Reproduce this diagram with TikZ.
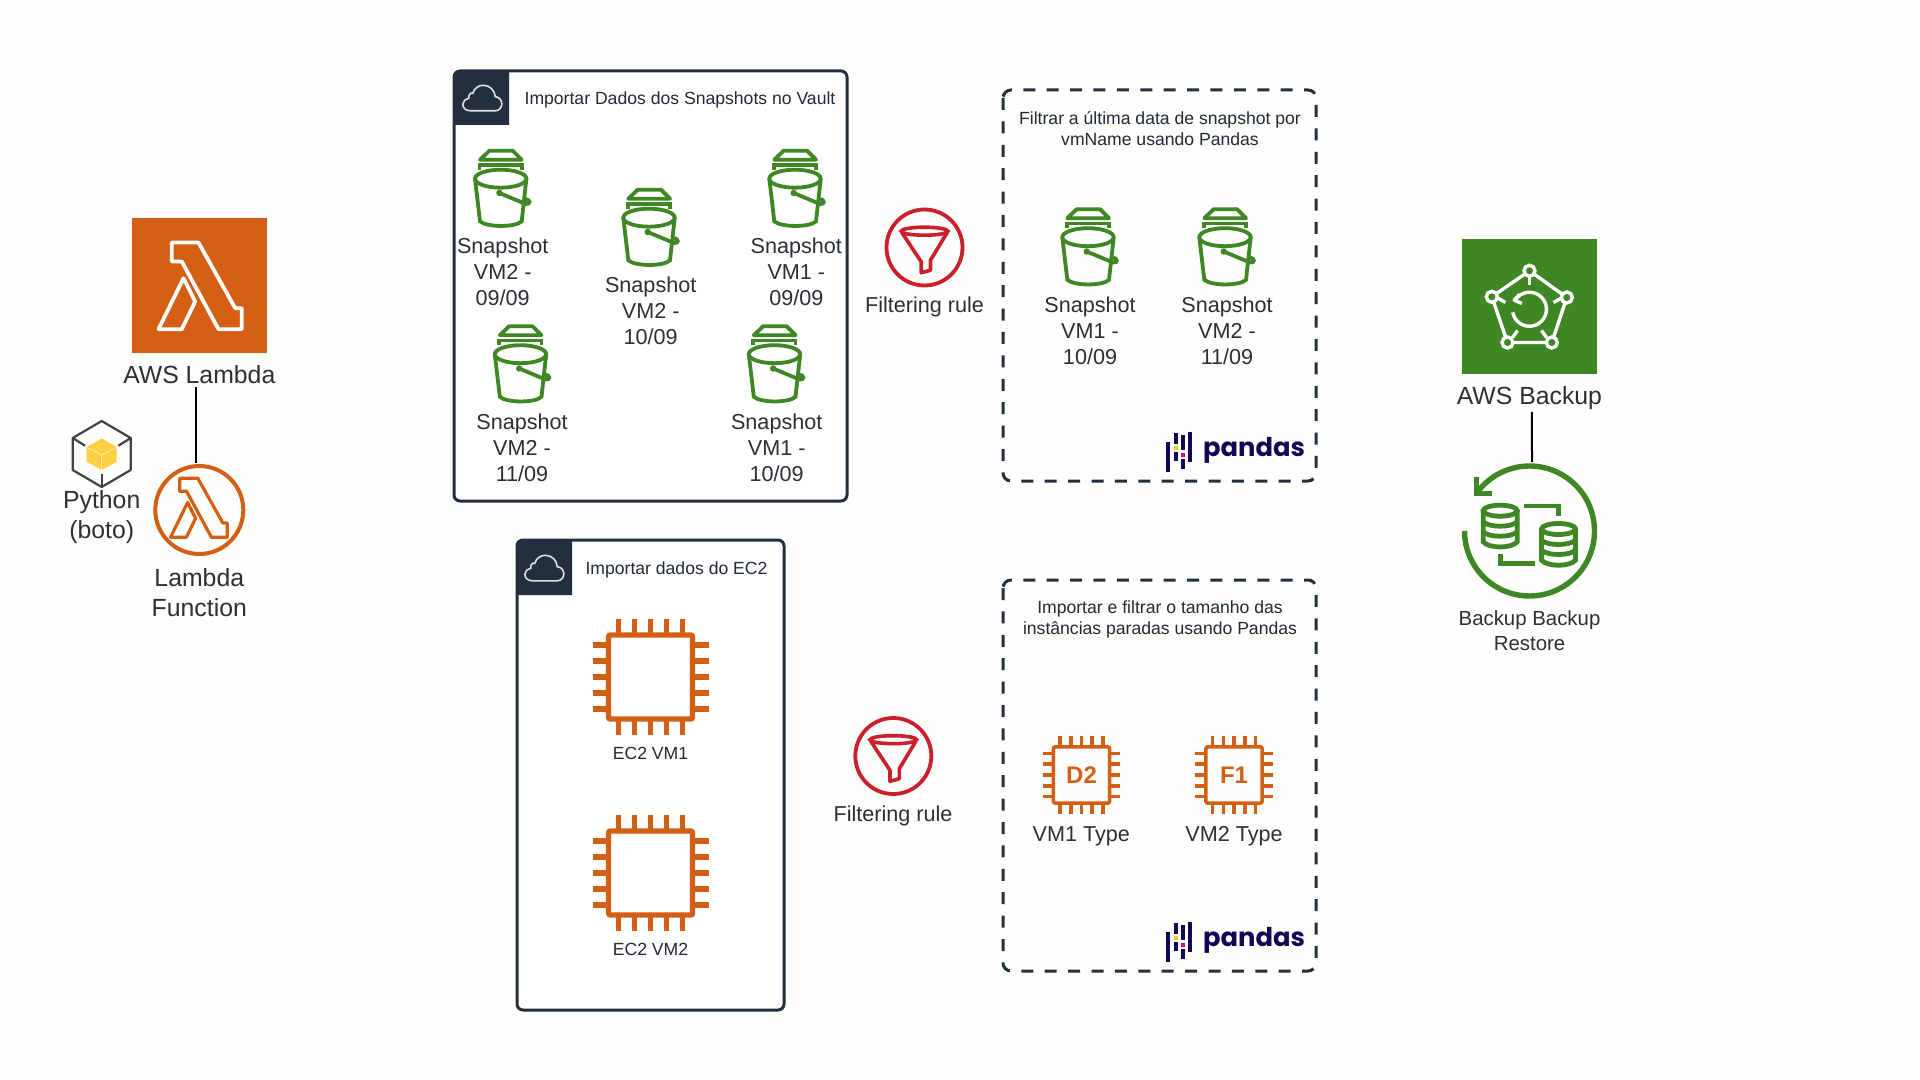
\documentclass[tikz,border=0pt]{standalone}
\usepackage{fontspec}
\setmainfont{Liberation Sans}
\newfontfamily\pandasfont{Poppins}
\definecolor{ink}{HTML}{2B2F36}
\definecolor{navy}{HTML}{232F3E}
\definecolor{pagebg}{HTML}{FEFEFC}
\definecolor{lambdaorange}{HTML}{D45F14}
\definecolor{backupgreen}{HTML}{3F8624}
\definecolor{filterred}{HTML}{C9202C}
\definecolor{pandasblue}{HTML}{130654}
\definecolor{pandasyellow}{HTML}{FFCA00}
\definecolor{pandaspink}{HTML}{E70488}
\definecolor{cubeyellow}{HTML}{FFCF40}
\tikzset{
	bigtext/.style={font=\fontsize{12.4}{15}\selectfont, align=center, text=ink, inner sep=1pt},
	midtext/.style={font=\fontsize{10.8}{13}\selectfont, align=center, text=ink, inner sep=1pt},
	resttext/.style={font=\fontsize{10.2}{12.4}\selectfont, align=center, text=ink, inner sep=1pt},
	smalltext/.style={font=\fontsize{8.8}{10.5}\selectfont, align=center, text=navy!90!black, inner sep=1pt},
	chiptext/.style={font=\fontsize{12}{14}\selectfont\bfseries, text=lambdaorange, inner sep=0pt},
	panel/.style={draw=navy, line width=1.5pt, rounded corners=3pt, fill=white},
	dashpanel/.style={draw=navy, line width=1.5pt, rounded corners=4pt, dash pattern=on 6pt off 5.7pt},
	wire/.style={draw=black, line width=1pt},
	awssquare/.style={minimum size=67.5pt, inner sep=0pt, outer sep=0pt},
	iconring/.style={shape=circle, draw, inner sep=0pt, outer sep=0pt},
	lambdaglyph/.pic={
		\draw[line join=round] (-27.7,-43) -- (-1,-43) -- (35.7,22.7) -- (42.3,22.7) -- (42.3,43.7) -- (19,43.7) -- (-17.7,-24) -- (-27.7,-24) -- cycle;
		\draw[line join=round] (-16,-7.3) -- (-4.3,16) -- (-17.7,43.7) -- (-41,43.7) -- cycle;
	},
	bucket/.pic={
		\draw[backupgreen, line width=1.9pt, line join=round] (-20.7,-29.3) -- (-11.3,-38.3) -- (12,-38.3) -- (21,-29.3) -- cycle;
		\draw[backupgreen, line width=1.9pt] (-21.3,-19.3) -- (-21.3,-24) -- (21,-24) -- (21,-19.3);
		\draw[backupgreen, line width=1.9pt] (0,-10.3) ellipse (25.7 and 9);
		\draw[backupgreen, line width=1.9pt] (-25.7,-10.3) -- (-20.7,32.3) .. controls (-14,38.5) and (15,38.5) .. (21,32.3) -- (25.7,-10.3);
		\draw[backupgreen, line width=1.9pt] (-1.3,4) -- (25,15) .. controls (30,15.5) and (30,11) .. (25,10);
		\fill[backupgreen] (-1.3,4) circle (3.2);
	},
	chip/.pic={
		\draw[rounded corners=1pt] (-42,-42) rectangle (42,42);
		\foreach \p in {-32,-16,0,16,32} {
			\draw (\p,-44) -- (\p,-58);
			\draw (\p,44) -- (\p,58);
			\draw (-44,\p) -- (-58,\p);
			\draw (44,\p) -- (58,\p);
		}
	},
	funnel/.pic={
		\draw[filterred, line width=1.8pt] (0,-16.3) ellipse (23.3 and 4);
		\draw[filterred, line width=1.8pt, line join=round] (-22.7,-15) -- (-3.3,14.3) -- (-3.3,25.3) -- (6,22.7) -- (6,12.7) -- (22.7,-15);
	},
	cloud/.pic={
		\draw[white!85!navy, line width=.8pt] (-12,12.5) -- (13,12.5) .. controls (17,12.5) and (19.5,9) .. (19.5,5.5) .. controls (19.5,1.5) and (16.5,-1.5) .. (13,-1.5) .. controls (12.5,-8) and (7.5,-13) .. (1,-13) .. controls (-4,-13) and (-8,-10) .. (-9.5,-5) .. controls (-12,-6) and (-14,-3) .. (-13.5,0) .. controls (-17,1) and (-19.5,3) .. (-19.5,6) .. controls (-19.5,10) and (-16,12.5) .. (-12,12.5) -- cycle;
	},
	pandaslogo/.pic={
		\foreach \x/\a/\b in {-68/-8.3/21.7, -60.3/-16.7/-6, -60.3/2.3/10.7, -53.3/-15/0, -53.3/9.3/19.3, -46/-18.3/11.7} {
			\fill[pandasblue] (\x-1.8,\a) rectangle (\x+1.8,\b);
		}
		\fill[pandasyellow] (-62.1,-4) rectangle (-58.5,0);
		\fill[pandaspink] (-55.1,2.7) rectangle (-51.5,6.7);
		\node[font=\pandasfont\fontsize{12.9}{15}\selectfont\bfseries, text=pandasblue, inner sep=0pt] (word) at (18,0.5) {pandas};
	},
	stack/.pic={
		\draw (0,-16) ellipse (17 and 5.5);
		\draw (-17,-16) -- (-17,15) .. controls (-12,22) and (12,22) .. (17,15) -- (17,-16);
		\draw (-17,-5) .. controls (-12,1) and (12,1) .. (17,-5);
		\draw (-17,5) .. controls (-12,11) and (12,11) .. (17,5);
	},
}
\begin{document}
\begin{tikzpicture}[x=.5pt, y=-.5pt]
	\useasboundingbox (0,0) rectangle (1920,1080);
	\fill[pagebg] (0,0) rectangle (1920,1080);

	\node[awssquare, fill=lambdaorange] (lambdaSquare) at (199.5,285.5) {};
	\pic[draw=white, line width=1.9pt] at (199.5,285.5) {lambdaglyph};
	\node[bigtext] (lambdaLabel) at (199.3,375) {AWS Lambda};
	\node[iconring, draw=lambdaorange, line width=2pt, minimum size=44pt] (lambdaRing) at (199.3,510) {};
	\pic[draw=lambdaorange, line width=1.6pt, scale=.68] at (198.5,507.5) {lambdaglyph};
	\node[bigtext] (lambdaFunction) at (199.3,592.5) {Lambda\\Function};
	\draw[wire, shorten >=1.5pt] ([xshift=-1.7pt]lambdaLabel.south) -- ([xshift=-1.7pt]lambdaRing.north);

	\draw[draw=ink!90, line width=1.1pt, line join=round] (101.7,421) -- (130.7,438) -- (130.7,470) -- (101.7,487) -- (72.7,470) -- (72.7,438) -- cycle;
	\draw[draw=ink!90, line width=1.1pt] (72.7,438) -- (85,445.7);
	\draw[draw=ink!90, line width=1.1pt] (130.7,438) -- (118.4,445.7);
	\draw[draw=ink!90, line width=1.1pt] (101.7,487) -- (101.7,474);
	\fill[cubeyellow] (101.7,438.5) -- (116.7,447) -- (116.7,461.7) -- (101.7,470) -- (86.7,461.7) -- (86.7,447) -- cycle;
	\draw[white!60!cubeyellow, line width=.4pt] (86.7,447) -- (101.7,455) -- (116.7,447);
	\draw[white!60!cubeyellow, line width=.4pt] (101.7,455) -- (101.7,470);
	\node[bigtext] (pythonLabel) at (101.7,517.5) {Python\\(boto)};

	\draw[panel] (454,71) rectangle (847,501);
	\fill[navy] (454,125) [rounded corners=3pt] -- (454,71) [sharp corners] -- (509,71) -- (509,125) -- cycle;
	\pic at (482.3,98.3) {cloud};
	\node[smalltext] (vaultTitle) at (680,100) {Importar Dados dos Snapshots no Vault};
	\pic at (500.7,189) {bucket};
	\pic at (649,228) {bucket};
	\pic at (795,189) {bucket};
	\pic at (520.5,364.5) {bucket};
	\pic at (774.5,364.5) {bucket};
	\node[midtext] (snapA) at (502.7,271.3) {Snapshot\\VM2 -\\09/09};
	\node[midtext] (snapB) at (650.7,310.8) {Snapshot\\VM2 -\\10/09};
	\node[midtext] (snapC) at (796.3,271.3) {Snapshot\\VM1 -\\09/09};
	\node[midtext] (snapD) at (522,447.3) {Snapshot\\VM2 -\\11/09};
	\node[midtext] (snapE) at (776.7,447.3) {Snapshot\\VM1 -\\10/09};

	\draw[panel] (517,540) rectangle (784,1010);
	\fill[navy] (517,595) [rounded corners=3pt] -- (517,540) [sharp corners] -- (572,540) -- (572,595) -- cycle;
	\pic at (544.3,568.3) {cloud};
	\node[smalltext] (ec2Title) at (676.5,570) {Importar dados do EC2};
	\pic[draw=lambdaorange, line width=2.7pt] at (650.5,677) {chip};
	\pic[draw=lambdaorange, line width=2.7pt] at (650.5,873) {chip};
	\node[smalltext] (ec2A) at (650.5,753) {EC2 VM1};
	\node[smalltext] (ec2B) at (650.5,949) {EC2 VM2};

	\node[iconring, draw=filterred, line width=1.9pt, minimum size=38pt] (filterRingA) at (924.5,247.5) {};
	\pic at (924.5,247.5) {funnel};
	\node[midtext] (filterLabelA) at (924.5,307) {Filtering rule};
	\node[iconring, draw=filterred, line width=1.9pt, minimum size=38pt] (filterRingB) at (893.3,756) {};
	\pic at (893.3,756) {funnel};
	\node[midtext] (filterLabelB) at (893,816) {Filtering rule};

	\draw[dashpanel] (1003,90) rectangle (1316,481);
	\node[smalltext] (lastTitle) at (1160,128.5) {Filtrar a última data de snapshot por\\vmName usando Pandas};
	\pic at (1088,247.5) {bucket};
	\pic at (1225,247.5) {bucket};
	\node[midtext] (lastA) at (1090,331) {Snapshot\\VM1 -\\10/09};
	\node[midtext] (lastB) at (1227,331) {Snapshot\\VM2 -\\11/09};
	\pic (pandasTop) at (1236,450) {pandaslogo};

	\draw[dashpanel] (1003,580) rectangle (1316,971);
	\node[smalltext] (sizeTitle) at (1160,619) {Importar e filtrar o tamanho das\\instâncias paradas usando Pandas};
	\pic[draw=lambdaorange, line width=1.8pt, scale=.67] at (1081.5,775) {chip};
	\pic[draw=lambdaorange, line width=1.8pt, scale=.67] at (1234,775) {chip};
	\node[chiptext] (typeD) at (1081.5,775) {D2};
	\node[chiptext] (typeF) at (1234,775) {F1};
	\node[midtext] (typeLabelA) at (1081.3,836) {VM1 Type};
	\node[midtext] (typeLabelB) at (1234,836) {VM2 Type};
	\pic (pandasBottom) at (1236,940) {pandaslogo};

	\node[awssquare, fill=backupgreen] (backupSquare) at (1529.5,306.5) {};
	\begin{scope}[shift={(1529.5,306.5)}, draw=white, line width=1.7pt]
		\draw[line join=round] (0,-35.7) -- (37.3,-9) -- (22.3,36) -- (-22,36) -- (-37.7,-9.7) -- cycle;
		\draw (0,-30) -- (0,-21);
		\draw (-31,-8) -- (-24,-4);
		\draw (31,-8) -- (24,-4);
		\draw (-17,31) -- (-12,24);
		\draw (17,31) -- (12,24);
		\draw (-14,-7) arc (215:530:17);
		\draw[line join=round] (-10,-12.3) -- (-15.3,-6.3) -- (-7.7,-3);
		\foreach \p in {(0,-35.7),(37.3,-9),(22.3,36),(-22,36),(-37.7,-9.7)} {
			\filldraw[fill=backupgreen] \p circle (5.5);
		}
	\end{scope}
	\node[bigtext] (backupLabel) at (1529.4,398) {AWS Backup};
	\node[shape=circle, minimum size=67pt, inner sep=0pt, outer sep=0pt] (restoreIcon) at (1529.5,531) {};
	\begin{scope}[shift={(1529.5,531)}, draw=backupgreen, line width=2.7pt]
		\draw (-65,0) arc (180:-143:65);
		\draw (-53.3,-54.3) -- (-53.3,-37.7) -- (-37.7,-37.7);
		\pic[line width=2.4pt] at (-29.3,-4.3) {stack};
		\pic[line width=2.4pt] at (29,14) {stack};
		\draw[line width=2.4pt] (-6,-25) -- (29,-25) -- (29,-15);
		\draw[line width=2.4pt] (-29.3,23.3) -- (-29.3,32.3) -- (5.7,32.3);
	\end{scope}
	\node[resttext] (restoreLabel) at (1529.5,630.6) {Backup Backup\\Restore};
	\draw[wire, shorten >=1pt] ([xshift=1.25pt]backupLabel.south) -- ([xshift=1.25pt]restoreIcon.north);
\end{tikzpicture}
\end{document}
